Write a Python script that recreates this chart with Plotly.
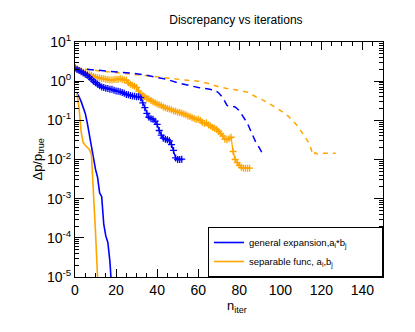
import plotly.graph_objects as go

# iteration counts and relative discrepancy
gen_x = list(range(1, 19))
gen_y = [0.49, 0.40, 0.30, 0.22, 0.15, 0.085, 0.04, 0.02, 0.011, 0.0056,
         0.0035, 0.0014, 0.00112, 0.000224, 0.000112, 0.000076, 0.000025, 0.000004]

sep_x = list(range(1, 13))
sep_y = [0.47, 0.20, 0.05, 0.027, 0.023, 0.020, 0.018, 0.0135, 0.0019,
         0.000135, 0.0000093, 0.0000007]

gen_plus_x = list(range(0, 53))
gen_plus_y = [2.14, 2.0, 1.86, 1.74, 1.62, 1.51, 1.41, 1.26, 1.12, 1.0,
              0.91, 0.83, 0.76, 0.71, 0.69, 0.66, 0.65, 0.62, 0.62, 0.59,
              0.56, 0.55, 0.54, 0.51, 0.49, 0.46, 0.45, 0.43, 0.42, 0.41,
              0.40, 0.40, 0.38, 0.28, 0.21, 0.15, 0.12, 0.11, 0.107, 0.095,
              0.079, 0.055, 0.042, 0.035, 0.033, 0.032, 0.030, 0.024, 0.017, 0.011,
              0.010, 0.010, 0.0102]

sep_plus_x = list(range(0, 86))
sep_plus_y = [2.24, 2.09, 1.91, 1.82, 1.70, 1.58, 1.51, 1.45, 1.41, 1.32,
              1.26, 1.23, 1.20, 1.17, 1.15, 1.12, 1.10, 1.07, 1.07, 1.10,
              1.12, 1.10, 1.17, 1.12, 1.07, 1.05, 0.91, 0.83, 0.79, 0.74,
              0.69, 0.56, 0.47, 0.43, 0.40, 0.36, 0.35, 0.32, 0.30, 0.28,
              0.26, 0.25, 0.24, 0.22, 0.21, 0.20, 0.195, 0.186, 0.174, 0.170,
              0.162, 0.158, 0.151, 0.145, 0.138, 0.129, 0.126, 0.117, 0.112, 0.105,
              0.107, 0.100, 0.089, 0.083, 0.087, 0.076, 0.072, 0.066, 0.063, 0.058,
              0.052, 0.046, 0.040, 0.033, 0.032, 0.034, 0.037, 0.016, 0.010, 0.0083,
              0.0071, 0.0063, 0.0060, 0.0060, 0.0060, 0.0060]

gen_dash_x = [0, 5, 10, 15, 20, 25, 30, 35, 40, 45, 50, 55, 60, 65, 68, 70, 72,
              74, 76, 78, 80, 82, 84, 86, 88, 90, 91, 92, 93]
gen_dash_y = [2.14, 2.04, 1.95, 1.86, 1.78, 1.66, 1.55, 1.41, 1.26, 1.10, 0.91,
              0.79, 0.69, 0.63, 0.59, 0.50, 0.38, 0.24, 0.23, 0.22, 0.178, 0.126,
              0.083, 0.048, 0.028, 0.019, 0.015, 0.016, 0.0166]

sep_dash_x = [0, 5, 10, 15, 20, 25, 30, 35, 40, 45, 50, 55, 60, 65, 70, 75, 80,
              84, 88, 92, 96, 100, 104, 108, 111, 114, 116, 117, 118, 120, 124, 127]
sep_dash_y = [2.14, 2.0, 1.86, 1.74, 1.62, 1.51, 1.45, 1.38, 1.29, 1.17, 1.10,
              1.05, 1.0, 0.87, 0.72, 0.63, 0.58, 0.52, 0.40, 0.32, 0.24, 0.18,
              0.126, 0.076, 0.045, 0.026, 0.013, 0.015, 0.0138, 0.0145, 0.0145, 0.0145]

decades = [-5, -4, -3, -2, -1, 0, 1]
BLUE = '#0000ff'
ORANGE = '#ffa500'
FONT = 'Liberation Sans, Arial, sans-serif'

fig = go.Figure()
fig.add_trace(go.Scatter(x=sep_dash_x, y=sep_dash_y, mode='lines', showlegend=False,
                         line=dict(color=ORANGE, width=1.5, dash='5px,5px')))
fig.add_trace(go.Scatter(x=gen_dash_x, y=gen_dash_y, mode='lines', showlegend=False,
                         line=dict(color=BLUE, width=1.5, dash='7px,5px')))
fig.add_trace(go.Scatter(x=sep_plus_x, y=sep_plus_y, mode='lines+markers', showlegend=False,
                         line=dict(color=ORANGE, width=1.3),
                         marker=dict(symbol='cross-thin', size=5, color=ORANGE,
                                     line=dict(color=ORANGE, width=1.3))))
fig.add_trace(go.Scatter(x=gen_plus_x, y=gen_plus_y, mode='lines+markers', showlegend=False,
                         line=dict(color=BLUE, width=1.3),
                         marker=dict(symbol='cross-thin', size=5, color=BLUE,
                                     line=dict(color=BLUE, width=1.3))))
fig.add_trace(go.Scatter(x=gen_x, y=gen_y, mode='lines',
                         name='general expansion,a<sub>i</sub>*b<sub>j</sub>',
                         line=dict(color=BLUE, width=1.6)))
fig.add_trace(go.Scatter(x=sep_x, y=sep_y, mode='lines',
                         name='separable func, a<sub>i</sub>,b<sub>j</sub>',
                         line=dict(color=ORANGE, width=1.6)))

minor_y = [k * 10 ** e for e in range(-5, 1) for k in range(2, 10)]

# page body adds an 8px margin, so the figure is sized to fit the window
fig.update_layout(
    width=407, height=324,
    margin=dict(l=67, r=32, t=34, b=55),
    paper_bgcolor='white', plot_bgcolor='white',
    font=dict(family=FONT, size=14, color='black'),
    title=dict(text='Discrepancy vs iterations', x=0.56, xanchor='center',
               y=0.963, yanchor='middle', font=dict(size=12)),
    legend=dict(orientation='h', x=1, xanchor='right', y=0, yanchor='bottom',
                bgcolor='white', bordercolor='black', borderwidth=1,
                font=dict(size=9.5), itemwidth=30, entrywidth=128,
                tracegroupgap=2),
    xaxis=dict(range=[0, 150], showline=True, linecolor='black', linewidth=1,
               mirror='ticks', ticks='inside', ticklen=8, tickcolor='black',
               dtick=20, tick0=0, showgrid=False, zeroline=False, automargin=False,
               tickfont=dict(size=14),
               minor=dict(ticks='inside', ticklen=4, dtick=5, tickcolor='black',
                          showgrid=False)),
    yaxis=dict(type='log', range=[-5, 1], showline=True, linecolor='black',
               linewidth=1, mirror='ticks', ticks='inside', ticklen=9,
               tickcolor='black', showgrid=False, zeroline=False, automargin=False,
               tickfont=dict(size=14),
               tickvals=[10 ** d for d in decades],
               ticktext=['10<sup>%d</sup>' % d for d in decades],
               minor=dict(ticks='inside', ticklen=4, tickvals=minor_y,
                          tickcolor='black', showgrid=False)),
)
# axis titles
fig.add_annotation(text='n<sub>iter</sub>', xref='paper', yref='paper',
                   x=0.526, y=-0.125, xanchor='center', yanchor='middle',
                   showarrow=False, font=dict(size=13))
fig.add_annotation(text='\u0394p/p<sub>true</sub>', xref='paper', yref='paper',
                   x=-0.12, y=0.5, xanchor='center', yanchor='middle',
                   textangle=-90, showarrow=False, font=dict(size=13))

fig.write_html('out.html')
